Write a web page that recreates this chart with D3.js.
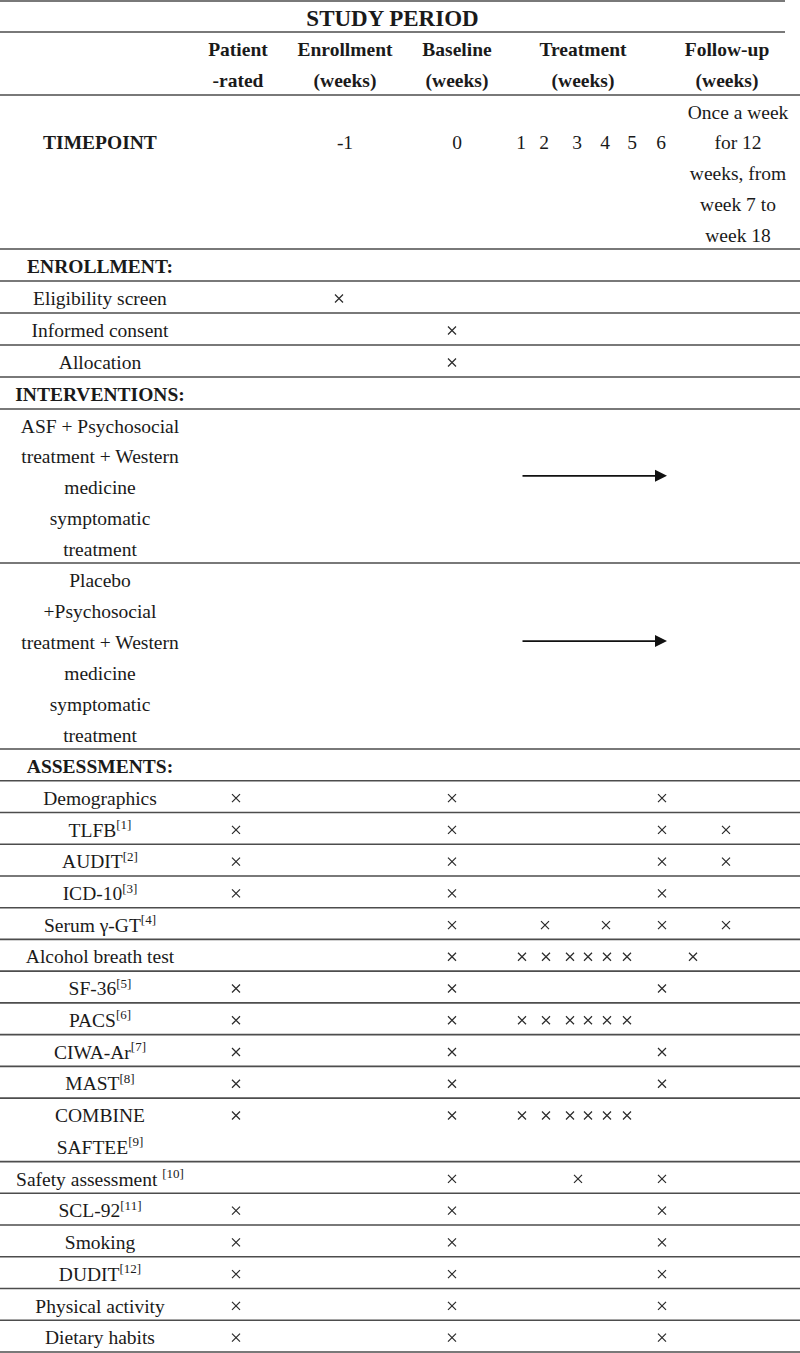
<!DOCTYPE html>
<html>
<head>
<meta charset="utf-8">
<script src="https://cdn.jsdelivr.net/npm/d3@7"></script>
<style>
  body { margin: 0; background: #fff; }
  text { font-family: "Liberation Serif", "Times New Roman", serif; fill: #1a1a1a; white-space: pre; }
</style>
</head>
<body>
<svg id="drawing_region"></svg>
<script>
// ---- table content ----
const title = 'STUDY PERIOD';
const columnKeys = ['pr', 'en', 'bl', 'tr', 'fu'];
const columnHeads = [['Patient', '-rated'], ['Enrollment', '(weeks)'], ['Baseline', '(weeks)'], ['Treatment', '(weeks)'], ['Follow-up', '(weeks)']];
const timepointCols = ['en', 'bl'];
const timepointValues = ['-1', '0'];
const treatmentWeeks = [1, 2, 3, 4, 5, 6];
const followUpNote = ['Once a week', 'for 12', 'weeks, from', 'week 7 to', 'week 18'];

const sections = ['ENROLLMENT:', 'INTERVENTIONS:', 'ASSESSMENTS:'];

const enrollmentLabels = ['Eligibility screen', 'Informed consent', 'Allocation'];
const enrollmentMarks = [['en'], ['bl'], ['bl']];

const interventionLabels = [
  ['ASF + Psychosocial', 'treatment + Western', 'medicine', 'symptomatic', 'treatment'],
  ['Placebo', '+Psychosocial', 'treatment + Western', 'medicine', 'symptomatic', 'treatment']
];
const interventionSpan = [[1, 6], [1, 6]];   // arrow runs over treatment weeks

const assessmentLabels = [
  ['Demographics'], ['TLFB'], ['AUDIT'], ['ICD-10'], ['Serum \u03b3-GT'], ['Alcohol breath test'],
  ['SF-36'], ['PACS'], ['CIWA-Ar'], ['MAST'], ['COMBINE', 'SAFTEE'], ['Safety assessment '],
  ['SCL-92'], ['Smoking'], ['DUDIT'], ['Physical activity'], ['Dietary habits']
];
const assessmentRefs = ['', '[1]', '[2]', '[3]', '[4]', '', '[5]', '[6]', '[7]', '[8]', '[9]', '[10]', '[11]', '', '[12]', '', ''];
const dense = ['d1', 'd2', 'd3', 'd4', 'd5', 'd6'];  // weekly run of crosses
const assessmentMarks = [
  ['pr', 'bl', 'w6'],
  ['pr', 'bl', 'w6', 'fu'],
  ['pr', 'bl', 'w6', 'fu'],
  ['pr', 'bl', 'w6'],
  ['bl', 'w2', 'w4', 'w6', 'fu'],
  ['bl', ...dense, 'fe'],
  ['pr', 'bl', 'w6'],
  ['pr', 'bl', ...dense],
  ['pr', 'bl', 'w6'],
  ['pr', 'bl', 'w6'],
  ['pr', 'bl', ...dense],
  ['bl', 'w3', 'w6'],
  ['pr', 'bl', 'w6'],
  ['pr', 'bl', 'w6'],
  ['pr', 'bl', 'w6'],
  ['pr', 'bl', 'w6'],
  ['pr', 'bl', 'w6']
];

// ---- layout ----
const config = {
  parent: '#drawing_region',
  width: 800,
  height: 1353,
  fontSize: 19.5,
  labelX: 100,
  rule: '#4d4d4d'
};

const svg = d3.select(config.parent)
  .attr('width', config.width)
  .attr('height', config.height);

// line index -> pixel (rows are counted in text lines)
const yline = d3.scaleLinear()
  .domain([0, 1, 3, 8, 13, 18, 24, 43])
  .range([1, 32, 95, 249, 409, 563, 749, 1352]);

const colX = d3.scaleOrdinal()
  .domain([...columnKeys, 'note'])
  .range([238, 345, 457, 583, 727, 738]);

const weekX = d3.scaleOrdinal()
  .domain(treatmentWeeks)
  .range([521, 544, 577, 605, 632, 661]);

const markX = d3.scaleOrdinal()
  .domain(['pr', 'en', 'bl', 'w1', 'w2', 'w3', 'w4', 'w5', 'w6', ...dense, 'fe', 'fu'])
  .range([236, 339, 452, 521, 545, 578, 606, 633, 662, 522, 546, 570, 588, 607, 627, 693, 726]);

// build the row list
const rows = [];
let cursor = 3;
function addRow(r) { r.start = cursor; cursor += r.lines; rows.push(r); }

addRow({kind: 'timepoint', lines: 5});
addRow({kind: 'section', label: sections[0], lines: 1});
enrollmentLabels.forEach((l, i) => addRow({kind: 'item', label: [l], ref: '', marks: enrollmentMarks[i], lines: 1}));
addRow({kind: 'section', label: sections[1], lines: 1});
const arrowAt = [2.17, 2.52];
interventionLabels.forEach((l, i) => addRow({kind: 'item', label: l, ref: '', marks: [], span: interventionSpan[i], arrow: arrowAt[i], lines: l.length}));
addRow({kind: 'section', label: sections[2], lines: 1});
assessmentLabels.forEach((l, i) => addRow({kind: 'item', label: l, ref: assessmentRefs[i], marks: assessmentMarks[i], lines: l.length}));

const midY = (start, i) => yline(start + i + 0.5);
const fs = config.fontSize;

// ---- rules ----
const ruleIdx = [0, 1, ...rows.map(r => r.start), cursor];
svg.selectAll('line.rule')
  .data(ruleIdx)
  .join('line')
  .attr('class', 'rule')
  .attr('x1', 0)
  .attr('x2', d => d <= 1 ? 785 : config.width)
  .attr('y1', d => yline(d))
  .attr('y2', d => yline(d))
  .attr('stroke', config.rule)
  .attr('stroke-width', 1.6);

// ---- title & column heads ----
svg.append('text')
  .attr('x', 392.5)
  .attr('y', midY(0, 0))
  .attr('dy', '0.41em')
  .attr('text-anchor', 'middle')
  .attr('font-size', 23)
  .attr('font-weight', 'bold')
  .text(title);

const heads = svg.selectAll('g.head')
  .data(columnKeys)
  .join('g')
  .attr('class', 'head');
heads.selectAll('text')
  .data((k, i) => columnHeads[i].map((t, j) => ({k, t, j})))
  .join('text')
  .attr('x', d => colX(d.k))
  .attr('y', d => midY(1, d.j))
  .attr('dy', '0.42em')
  .attr('text-anchor', 'middle')
  .attr('font-size', fs)
  .attr('font-weight', 'bold')
  .text(d => d.t);

// ---- timepoint row ----
const tp = rows[0];
svg.append('text')
  .attr('x', config.labelX)
  .attr('y', midY(tp.start, 1))
  .attr('dy', '0.42em')
  .attr('text-anchor', 'middle')
  .attr('font-size', fs)
  .attr('font-weight', 'bold')
  .text('TIMEPOINT');

svg.selectAll('text.tpv')
  .data(timepointCols)
  .join('text')
  .attr('class', 'tpv')
  .attr('x', d => colX(d))
  .attr('y', midY(tp.start, 1))
  .attr('dy', '0.42em')
  .attr('text-anchor', 'middle')
  .attr('font-size', fs)
  .text((d, i) => timepointValues[i]);

svg.selectAll('text.week')
  .data(treatmentWeeks)
  .join('text')
  .attr('class', 'week')
  .attr('x', d => weekX(d))
  .attr('y', midY(tp.start, 1))
  .attr('dy', '0.42em')
  .attr('text-anchor', 'middle')
  .attr('font-size', fs)
  .text(d => d);

svg.selectAll('text.note')
  .data(followUpNote)
  .join('text')
  .attr('class', 'note')
  .attr('x', colX('note'))
  .attr('y', (d, i) => midY(tp.start, i))
  .attr('dy', '0.42em')
  .attr('text-anchor', 'middle')
  .attr('font-size', fs)
  .text(d => d);

// ---- section headings ----
svg.selectAll('text.section')
  .data(rows.filter(r => r.kind === 'section'))
  .join('text')
  .attr('class', 'section')
  .attr('x', config.labelX)
  .attr('y', d => midY(d.start, 0))
  .attr('dy', '0.42em')
  .attr('text-anchor', 'middle')
  .attr('font-size', fs)
  .attr('font-weight', 'bold')
  .text(d => d.label);

// ---- item rows ----
const items = svg.selectAll('g.item')
  .data(rows.filter(r => r.kind === 'item'))
  .join('g')
  .attr('class', 'item');

const cr = 4; // half size of a cross

items.each(function(r) {
  const g = d3.select(this);
  r.label.forEach((line, i) => {
    const t = g.append('text')
      .attr('x', config.labelX)
      .attr('y', midY(r.start, i))
      .attr('dy', '0.42em')
      .attr('text-anchor', 'middle')
      .attr('font-size', fs);
    t.append('tspan').text(line);
    if (r.ref && i === r.label.length - 1) {
      t.append('tspan')
        .attr('dy', -7.5)
        .attr('font-size', 13)
        .text(r.ref);
    }
  });

  const cy = midY(r.start, 0) + 1.5;
  g.selectAll('path.mark')
    .data(r.marks)
    .join('path')
    .attr('class', 'mark')
    .attr('d', d => {
      const cx = markX(d);
      return `M${cx - cr},${cy - cr}L${cx + cr},${cy + cr}M${cx + cr},${cy - cr}L${cx - cr},${cy + cr}`;
    })
    .attr('stroke', '#2a2a2a')
    .attr('stroke-width', 1.2)
    .attr('fill', 'none');

  if (r.span) {
    const ay = yline(r.start + r.arrow);
    const x0 = weekX(r.span[0]) + 1.5;
    const x1 = weekX(r.span[1]) + 6;
    g.append('line')
      .attr('x1', x0).attr('x2', x1 - 10)
      .attr('y1', ay).attr('y2', ay)
      .attr('stroke', '#111')
      .attr('stroke-width', 1.6);
    g.append('path')
      .attr('d', `M${x1},${ay} L${x1 - 12},${ay - 6} L${x1 - 12},${ay + 6} Z`)
      .attr('fill', '#111');
  }
});
</script>
</body>
</html>
